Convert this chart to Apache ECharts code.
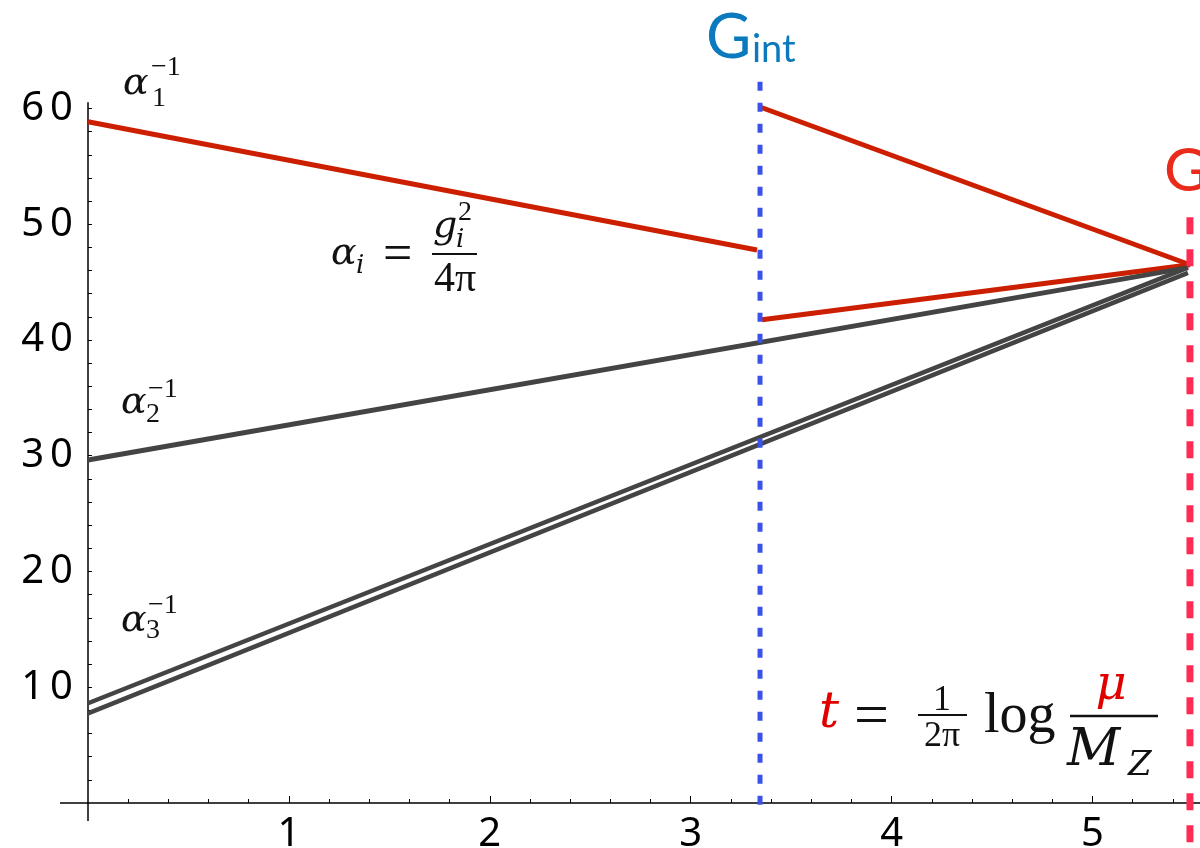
<!DOCTYPE html>
<html><head><meta charset="utf-8">
<script src="https://cdn.jsdelivr.net/npm/echarts@6/dist/echarts.min.js"></script>
<style>html,body{margin:0;padding:0;background:#fff}#c{width:1200px;height:848px}</style>
</head><body><div id="c"></div>
<script>
// ---- data ----
const tInt = 3.345;          // intermediate scale
const tGUT = 5.485;          // unification scale
const alpha1Below = [[0, 58.86], [3.33, 47.78]];
const alpha1Above = [[3.345, 60.13], [5.485, 46.5]];
const alphaIntLow = [[3.355, 41.75], [5.485, 46.5]];
const alpha2 = [[0, 29.63], [5.475, 46.25]];
const alpha3Upper = [[0, 8.62], [5.475, 46.25]];
const alpha3Lower = [[0, 7.74], [5.475, 45.8]];
const gIntSpan = [62.3, -0.45];
const gutSpan = [50.6, -4.0];
const xTickLabels = [1, 2, 3, 4, 5];
const xMinorTicks = [0.2,0.4,0.6,0.8,1.2,1.4,1.6,1.8,2.2,2.4,2.6,2.8,3.2,3.4,3.6,3.8,4.2,4.4,4.6,4.8,5.2,5.4];
const yTickLabels = [10, 20, 30, 40, 50, 60];
const yTicks = [2,4,6,8,10,12,14,16,18,20,22,24,26,28,30,32,34,36,38,40,42,44,46,48,50,52,54,56,58,60];

const RED = '#cc1f00', GRAY = '#444444';
const chart = echarts.init(document.getElementById('c'));

function line(data, color, w, extra) {
  return Object.assign({type:'line', data, symbol:'none', animation:false, silent:true,
    lineStyle:{color, width:w, cap:'butt'}}, extra || {});
}
const SERIF = '"DejaVu Serif", "Liberation Serif", serif';
const USERIF = '"Liberation Serif", "DejaVu Serif", serif';
function T(x, y, s, size, opt) {
  opt = opt || {};
  const font = (opt.italic ? 'italic ' : '') + size + 'px ' + (opt.family || (opt.italic ? SERIF : USERIF));
  return {type:'text', x, y, z:100, silent:true,
    style:{text:s, font, fill:opt.color || '#111', align:opt.align || 'left', textAlign:opt.align || 'left',
      verticalAlign:'middle', textVerticalAlign:'middle'}};
}
function bar(x1, x2, y, w) {
  return {type:'line', z:100, silent:true, shape:{x1, y1:y, x2, y2:y}, style:{stroke:'#111', lineWidth:w || 2}};
}

const labels = [
  // alpha_1^-1
  T(123, 84, 'α', 38, {italic:true}), T(152, 99, '1', 28), T(151, 68, '−1', 28),
  // alpha_2^-1
  T(121, 403, 'α', 38, {italic:true}), T(146, 415, '2', 28), T(148, 390, '−1', 28),
  // alpha_3^-1
  T(121, 621, 'α', 38, {italic:true}), T(146, 631, '3', 28), T(148, 606, '−1', 28),
  // alpha_i = g_i^2 / 4pi
  T(331, 254, 'α', 38, {italic:true}), T(356, 266, 'i', 26, {italic:true}),
  T(383, 256, '=', 52),
  T(433, 227, 'g', 38, {italic:true}), T(456, 240, 'i', 26, {italic:true}), T(458, 213, '2', 28),
  bar(432, 477, 254, 2),
  T(455, 280, '4π', 42, {align:'center'}),
  // t = 1/(2pi) log mu/M_Z
  T(819, 714, 't', 50, {italic:true, color:'#e00000'}),
  T(854, 719, '=', 62),
  T(942, 701, '1', 36, {align:'center'}), bar(918, 967, 715, 2), T(942, 737, '2π', 36, {align:'center'}),
  T(984, 717, 'log', 56),
  T(1111, 687, 'μ', 48, {italic:true, color:'#e00000', align:'center'}),
  bar(1070, 1158, 716, 2.5),
  T(1067, 751, 'M', 52, {italic:true}), T(1128, 766, 'Z', 34, {italic:true}),
  // scale labels
  T(706, 38, 'G', 62, {family:'Lato, "Open Sans", sans-serif', color:'#0a79be'}),
  T(752, 50, 'int', 38, {family:'Lato, "Open Sans", sans-serif', color:'#0a79be'}),
  T(1164, 172, 'G', 60, {family:'Lato, "Open Sans", sans-serif', color:'#ea2a1a'})
];

const AX = {color:'#000', width:1.5};
const digitRich = {d:{fontFamily:'"Noto Sans", "Open Sans", sans-serif', fontSize:40, color:'#000', padding:[0,3,0,3]}};
const spaced = v => String(v).split('').map(c => '{d|' + c + '}').join('');

chart.setOption({
  animation:false,
  grid:{left:88, right:0, top:102.7, bottom:45, containLabel:false, outerBoundsMode:'none'},
  xAxis:[
    {type:'value', min:0, max:5.535, position:'bottom',
      axisLine:{show:true, onZero:false, lineStyle:AX},
      axisTick:{show:true, inside:true, length:7, lineStyle:{color:'#000', width:1}, customValues:xTickLabels},
      axisLabel:{customValues:xTickLabels, margin:12, formatter:spaced, rich:digitRich},
      splitLine:{show:false}},
    {type:'value', min:0, max:5.535, position:'bottom', offset:0,
      axisLine:{show:false, onZero:false},
      axisTick:{show:true, inside:true, length:4, lineStyle:{color:'#000', width:1}, customValues:xMinorTicks},
      axisLabel:{show:false}, splitLine:{show:false}}
  ],
  yAxis:{type:'value', min:0, max:60.5,
    axisLine:{show:true, onZero:false, lineStyle:AX},
    axisTick:{show:true, inside:true, length:4, lineStyle:{color:'#000', width:1}, customValues:yTicks},
    axisLabel:{customValues:yTickLabels, margin:12, formatter:spaced, rich:digitRich},
    splitLine:{show:false}},
  series:[
    line(alpha1Below, RED, 5),
    line(alpha1Above, RED, 5),
    line(alphaIntLow, RED, 5),
    line(alpha2, GRAY, 5),
    line(alpha3Upper, GRAY, 4.5),
    line(alpha3Lower, GRAY, 4.5),
    {type:'line', data:[[tInt, gIntSpan[0]], [tInt, gIntSpan[1]]], symbol:'none', clip:false, animation:false, z:5,
      lineStyle:{color:'#3a52ea', width:5, type:[9, 12], cap:'butt'}},
    {type:'line', data:[[tGUT, gutSpan[0]], [tGUT, gutSpan[1]]], symbol:'none', clip:false, animation:false, z:5,
      lineStyle:{color:'#ff2d55', width:7, type:[17, 15], cap:'butt'}}
  ],
  graphic:labels
});

// short axis extensions past the origin (as in the original)
const o = chart.convertToPixel({gridIndex:0}, [0, 0]);
chart.setOption({graphic:labels.concat([
  {type:'line', silent:true, shape:{x1:o[0]-28, y1:o[1], x2:o[0], y2:o[1]}, style:{stroke:'#000', lineWidth:1.5}},
  {type:'line', silent:true, shape:{x1:o[0], y1:o[1], x2:o[0], y2:o[1]+18}, style:{stroke:'#000', lineWidth:1.5}}
])});
</script>
</body></html>
